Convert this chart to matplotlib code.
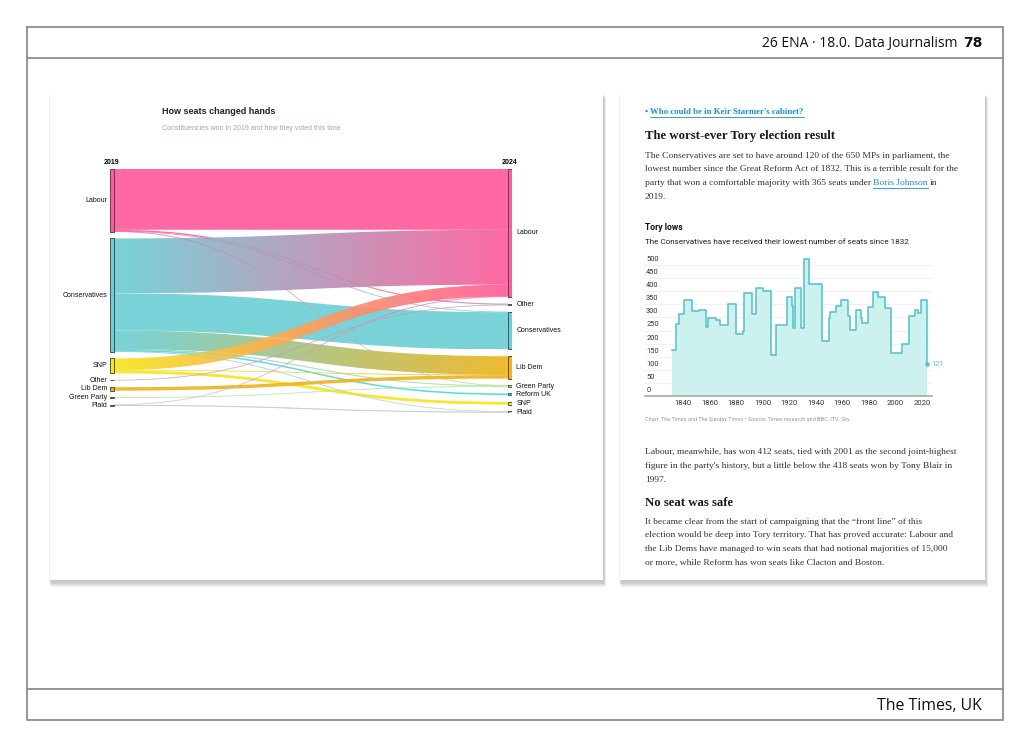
import numpy as np
import matplotlib
matplotlib.use('Agg')
import matplotlib.pyplot as plt
from matplotlib.path import Path
from matplotlib.patches import PathPatch, Rectangle
from matplotlib.collections import LineCollection
from matplotlib.colors import to_rgb

W, H = 1030, 747

# ---- sankey data: seats won in 2019 and how they voted in 2024 ----
left_nodes = ['Labour', 'Conservatives', 'SNP', 'Other', 'Lib Dem', 'Green Party', 'Plaid']
right_nodes = ['Labour', 'Other', 'Conservatives', 'Lib Dem', 'Green Party', 'Reform UK', 'SNP', 'Plaid']
flow_src = ['Labour', 'Labour', 'Labour', 'Labour',
            'Conservatives', 'Conservatives', 'Conservatives', 'Conservatives', 'Conservatives', 'Conservatives',
            'SNP', 'SNP', 'SNP', 'Other', 'Lib Dem', 'Green Party', 'Plaid', 'Plaid']
flow_tgt = ['Labour', 'Other', 'Conservatives', 'Green Party',
            'Labour', 'Conservatives', 'Lib Dem', 'Green Party', 'Reform UK', 'Plaid',
            'Labour', 'Lib Dem', 'SNP', 'Other', 'Lib Dem', 'Green Party', 'Labour', 'Plaid']
flow_seats = [196, 4, 1, 1,
              177, 120, 60, 2, 5, 1,
              38, 1, 9, 1, 11, 1, 1, 3]

party_colors = {'Labour': '#FF5C9B', 'Conservatives': '#6DCFD5', 'SNP': '#F7E51E',
                'Other': '#BFA0BE', 'Lib Dem': '#EDB41E', 'Green Party': '#A9E890',
                'Reform UK': '#38E2D6', 'Plaid': '#C9CDCD'}

# ---- Tory seats at each general election ----
tory_years = [1832, 1835, 1837, 1841, 1847, 1852, 1857, 1859, 1865, 1868, 1874, 1880, 1885, 1886,
              1892, 1895, 1900, 1906, 1910, 1910.9, 1918, 1922, 1923, 1924, 1929, 1931, 1935, 1945,
              1950, 1951, 1955, 1959, 1964, 1966, 1970, 1974, 1974.8, 1979, 1983, 1987, 1992, 1997,
              2001, 2005, 2010, 2015, 2017, 2019, 2024]
tory_seats = [175, 273, 314, 367, 325, 330, 264, 298, 289, 271, 350, 237, 247, 393,
              313, 411, 402, 156, 272, 271, 379, 344, 258, 412, 260, 522, 429, 210,
              298, 321, 345, 365, 304, 253, 330, 297, 277, 339, 397, 376, 336, 165,
              166, 198, 306, 330, 317, 365, 121]
y_ticks = [0, 50, 100, 150, 200, 250, 300, 350, 400, 450, 500]
x_ticks = [1840, 1860, 1880, 1900, 1920, 1940, 1960, 1980, 2000, 2020]

SERIF = 'Liberation Serif'
SANS = 'Liberation Sans'
BODY = 6.8
HEAD = 9.2


def px_box(x0, y0, x1, y1):
    return [x0 / W, 1 - y1 / H, (x1 - x0) / W, (y1 - y0) / H]


fig = plt.figure(figsize=(W / 100, H / 100), dpi=100)
page = fig.add_axes([0, 0, 1, 1])
page.set_xlim(0, W)
page.set_ylim(H, 0)
page.axis('off')

# frame of the slide
frame = dict(color='#8e8e8e', lw=1.3)
page.plot([27, 1003, 1003, 27, 27], [27, 27, 720, 720, 27], **frame)
page.plot([27, 1003], [58, 58], **frame)
page.plot([27, 1003], [689, 689], **frame)
page.text(982, 43, '78', ha='right', va='center', fontsize=10, fontweight='heavy',
          family='DejaVu Sans', color='#111')
page.text(957, 43, '26 ENA · 18.0. Data Journalism', ha='right', va='center', fontsize=10,
          family='Open Sans', color='#111')
page.text(982, 706, 'The Times, UK', ha='right', va='center', fontsize=11.4,
          family='Open Sans', color='#111')


def card(x0, y0, x1, y1):
    for i in range(8):
        page.add_patch(Rectangle((x0 - 1 + i * 0.3, y0 + 1 + i * 0.6), x1 - x0 + 2, y1 - y0 + 2,
                                 facecolor='#000', alpha=0.028, lw=0, zorder=1))
    page.add_patch(Rectangle((x0, y0), x1 - x0, y1 - y0, facecolor='white', lw=0, zorder=2))


card(50, 93, 603, 580)
card(620, 93, 985, 580)

# ---- sankey ----
page.text(162, 111, 'How seats changed hands', fontsize=6.5, fontweight='bold', family=SANS,
          color='#222', va='center', zorder=5)
page.text(162, 129, 'Constituencies won in 2019 and how they voted this time', fontsize=5,
          family=SANS, color='#9aa9ad', va='center', zorder=5)

gap = 22
left_val = [sum(s for a, s in zip(flow_src, flow_seats) if a == n) for n in left_nodes]
right_val = [sum(s for b, s in zip(flow_tgt, flow_seats) if b == n) for n in right_nodes]
left_y = np.concatenate([[0], np.cumsum(np.array(left_val) + gap)[:-1]])
right_y = np.concatenate([[0], np.cumsum(np.array(right_val) + gap)[:-1]])
total_h = right_y[-1] + right_val[-1]

sk = fig.add_axes(px_box(110, 169, 512, 169 + total_h * 0.31))
sk.set_zorder(3)
sk.patch.set_alpha(0)
sk.axis('off')
nw = 4 / 402.0

# stack links at each end
order = sorted(range(len(flow_seats)),
               key=lambda i: (left_nodes.index(flow_src[i]), right_nodes.index(flow_tgt[i])))
src_off = {n: 0 for n in left_nodes}
src_pos = {}
for i in order:
    n = flow_src[i]
    src_pos[i] = left_y[left_nodes.index(n)] + src_off[n]
    src_off[n] += flow_seats[i]
order_t = sorted(range(len(flow_seats)),
                 key=lambda i: (right_nodes.index(flow_tgt[i]), left_nodes.index(flow_src[i])))
tgt_off = {n: 0 for n in right_nodes}
tgt_pos = {}
for i in order_t:
    n = flow_tgt[i]
    tgt_pos[i] = right_y[right_nodes.index(n)] + tgt_off[n]
    tgt_off[n] += flow_seats[i]

x0, x1 = nw, 1 - nw
xm = (x0 + x1) / 2
tt = np.linspace(0, 1, 60)
for i in range(len(flow_seats)):
    s = flow_seats[i]
    ys, yt = src_pos[i], tgt_pos[i]
    c0 = np.array(to_rgb(party_colors[flow_src[i]]))
    c1 = np.array(to_rgb(party_colors[flow_tgt[i]]))
    verts = [(x0, ys), (xm, ys), (xm, yt), (x1, yt),
             (x1, yt + s), (xm, yt + s), (xm, ys + s), (x0, ys + s), (x0, ys)]
    codes = [Path.MOVETO, Path.CURVE4, Path.CURVE4, Path.CURVE4,
             Path.LINETO, Path.CURVE4, Path.CURVE4, Path.CURVE4, Path.CLOSEPOLY]
    patch = PathPatch(Path(verts, codes), facecolor='none', edgecolor='none')
    sk.add_patch(patch)
    grad = np.linspace(0, 1, 128)[:, None]
    img = np.zeros((1, 128, 4))
    img[0, :, :3] = c0 * (1 - grad) + c1 * grad
    img[0, :, 3] = 0.92
    im = sk.imshow(img, extent=[x0, x1, max(ys, yt) + s, min(ys, yt)], aspect='auto',
                   interpolation='bilinear', zorder=1)
    im.set_clip_path(patch)
    if s < 4:
        # hairline for one-seat links
        bx = (1 - tt) ** 3 * x0 + 3 * (1 - tt) ** 2 * tt * xm + 3 * (1 - tt) * tt ** 2 * xm + tt ** 3 * x1
        yc0, yc1 = ys + s / 2, yt + s / 2
        by = (1 - tt) ** 3 * yc0 + 3 * (1 - tt) ** 2 * tt * yc0 + 3 * (1 - tt) * tt ** 2 * yc1 + tt ** 3 * yc1
        pts = np.column_stack([bx, by]).reshape(-1, 1, 2)
        segs = np.concatenate([pts[:-1], pts[1:]], axis=1)
        cols = [tuple(c0 * (1 - t) + c1 * t) + (0.55,) for t in tt[:-1]]
        sk.add_collection(LineCollection(segs, colors=cols, linewidths=0.7, zorder=2))

for n, y, v in zip(left_nodes, left_y, left_val):
    sk.add_patch(Rectangle((0, y), nw, v, facecolor=party_colors[n], edgecolor='#3a3a3a',
                           lw=0.6, zorder=4))
    sk.text(-0.006, y + v / 2, n, ha='right', va='center', fontsize=5, family=SANS, color='#111')
for n, y, v in zip(right_nodes, right_y, right_val):
    sk.add_patch(Rectangle((1 - nw, y), nw, v, facecolor=party_colors[n], edgecolor='#3a3a3a',
                           lw=0.6, zorder=4))
    sk.text(1.011, y + v / 2, n, ha='left', va='center', fontsize=5, family=SANS, color='#111')
sk.text(nw / 2, -22, '2019', ha='center', va='center', fontsize=5, fontweight='bold', family=SANS)
sk.text(1 - nw / 2, -22, '2024', ha='center', va='center', fontsize=5, fontweight='bold', family=SANS)
sk.set_xlim(0, 1)
sk.set_ylim(total_h, 0)

# ---- right column article ----
renderer = fig.canvas.get_renderer()


def chain(x, y, parts, size=BODY, color='#333', family=SERIF, weight='normal'):
    # parts: list of (text, is_link)
    for txt, link in parts:
        t = page.text(x, y, txt, fontsize=size, family=family, fontweight=weight, va='center',
                      color='#1b8fd1' if link else color, zorder=5)
        w = t.get_window_extent(renderer).width
        if link:
            page.plot([x, x + w], [y + size * 0.72, y + size * 0.72], color='#1b8fd1', lw=0.6, zorder=5)
        x += w + size * 0.33


def para(y, lines, dy=13.8):
    for k, line in enumerate(lines):
        page.text(645, y + dy * k, line, fontsize=BODY, family=SERIF, color='#333',
                  va='center', zorder=5)


chain(645, 112, [('•', False), ("Who could be in Keir Starmer's cabinet?", True)], size=6.3,
      color='#1b8fd1', weight='bold')
page.text(645, 136, 'The worst-ever Tory election result', fontsize=HEAD, fontweight='bold',
          family=SERIF, color='#1a1a1a', va='center', zorder=5)
para(155.5, ['The Conservatives are set to have around 120 of the 650 MPs in parliament, the',
             'lowest number since the Great Reform Act of 1832. This is a terrible result for the'])
chain(645, 183.1, [('party that won a comfortable majority with 365 seats under', False),
                   ('Boris Johnson', True), ('in', False)])
para(196.9, ['2019.'])

page.text(645, 227, 'Tory lows', fontsize=6.2, fontweight='bold', family='Roboto', color='#111',
          va='center', zorder=5)
page.text(645, 242, 'The Conservatives have received their lowest number of seats since 1832',
          fontsize=5.9, family='Roboto', color='#222', va='center', zorder=5)
page.text(645, 419, 'Chart: The Times and The Sunday Times • Source: Times research and BBC, ITV, Sky',
          fontsize=4.0, family='Roboto', color='#9a9a9a', va='center', zorder=5)

para(452, ['Labour, meanwhile, has won 412 seats, tied with 2001 as the second joint-highest',
           "figure in the party's history, but a little below the 418 seats won by Tony Blair in",
           '1997.'])
page.text(645, 503, 'No seat was safe', fontsize=HEAD, fontweight='bold', family=SERIF,
          color='#1a1a1a', va='center', zorder=5)
para(521.5, ['It became clear from the start of campaigning that the \u201cfront line\u201d of this',
             'election would be deep into Tory territory. That has proved accurate: Labour and',
             'the Lib Dems have managed to win seats that had notional majorities of 15,000',
             'or more, while Reform has won seats like Clacton and Boston.'])

# ---- Tory lows step chart ----
ymax = 540
tc = fig.add_axes(px_box(645, 396 - ymax * 0.262, 932, 396))
tc.set_zorder(3)
tc.patch.set_alpha(0)
tc.fill_between(tory_years, tory_seats, step='post', color='#CCF1EF', lw=0)
tc.step(tory_years, tory_seats, where='post', color='#4FC2CB', lw=1.1)
tc.plot(tory_years[-1], tory_seats[-1], 'o', color='#4FC2CB', ms=2.2)
tc.annotate(str(tory_seats[-1]), (tory_years[-1], tory_seats[-1]), xytext=(3, 0),
            textcoords='offset points', va='center', fontsize=5.3, family='Roboto', color='#4FC2CB')
for v in y_ticks:
    tc.axhline(v, color='#eeeeee', lw=0.6, zorder=0)
    tc.annotate(str(v), (0.004, v), xycoords=tc.get_yaxis_transform(), xytext=(0, 1.5),
                textcoords='offset points', va='bottom', ha='left', fontsize=5.4,
                family='Roboto', color='#333')
tc.set_xlim(1811.4, 2027.5)
tc.set_ylim(0, ymax)
tc.set_yticks([])
tc.set_xticks(x_ticks)
tc.set_xticklabels([str(x) for x in x_ticks], fontsize=5.5, family='Roboto', color='#333')
tc.tick_params(axis='x', length=0, pad=3)
for side in ['top', 'right', 'left']:
    tc.spines[side].set_visible(False)
tc.spines['bottom'].set_color('#a8a8a8')
tc.spines['bottom'].set_linewidth(1.2)

fig.savefig('out.png', dpi=100)
